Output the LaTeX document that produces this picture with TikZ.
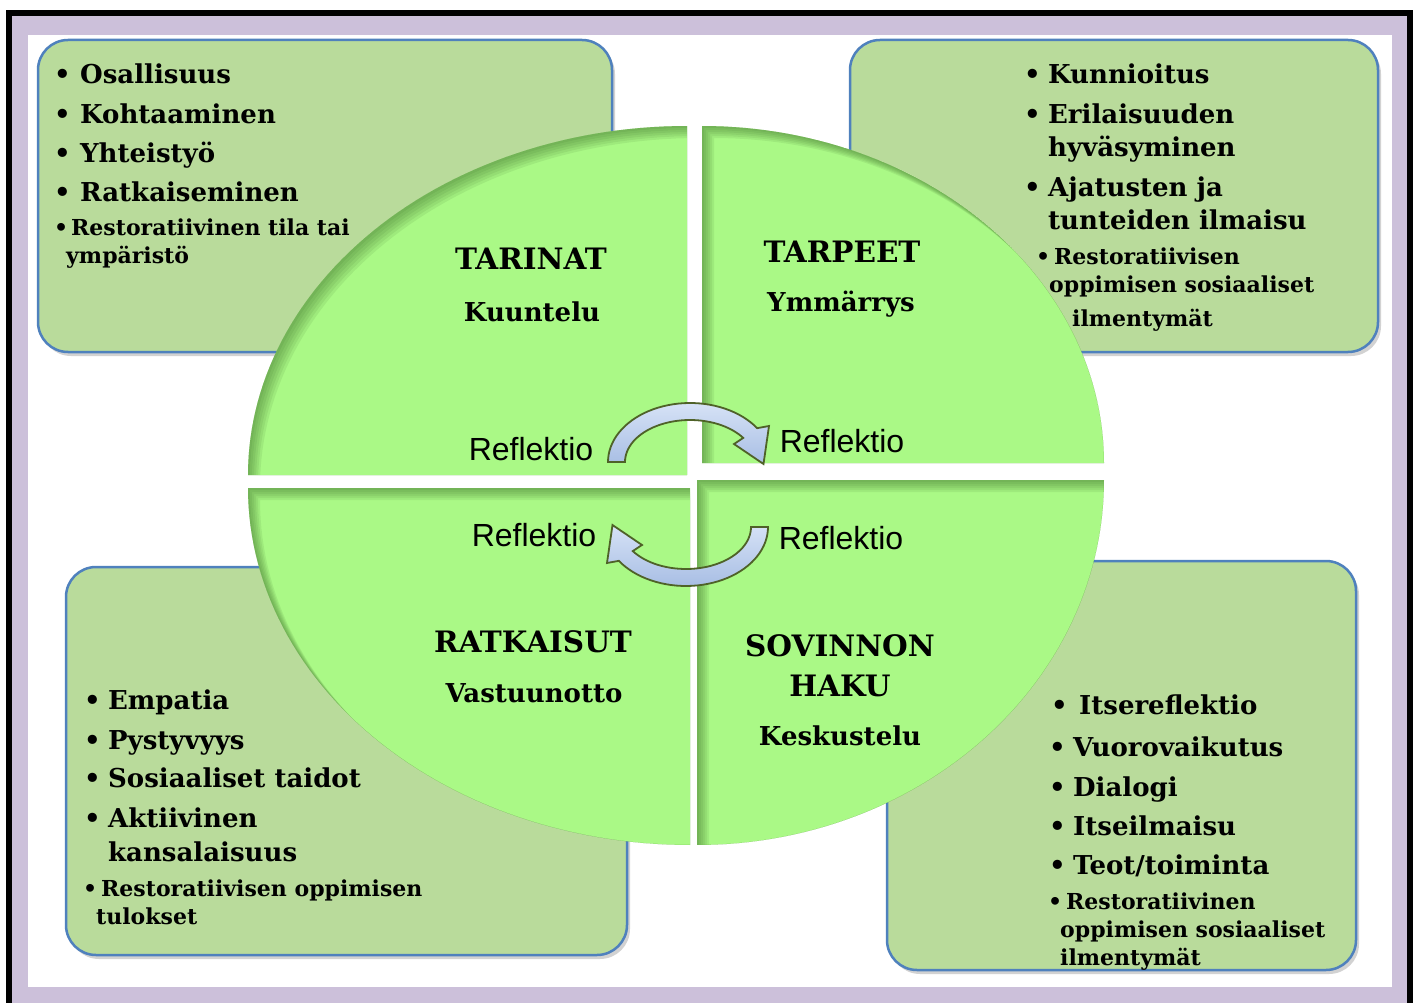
\documentclass[tikz,border=0pt]{standalone}
\usepackage{fontspec}
\setmainfont{DejaVu Serif}
\newfontfamily\reflfont{Liberation Sans}
\usetikzlibrary{shadows}
\usepackage{xcolor}

\definecolor{frameviolet}{RGB}{204,192,218}
\definecolor{boxgreen}{RGB}{185,219,155}
\definecolor{boxblue}{RGB}{79,129,189}
\definecolor{quadgreen}{RGB}{170,249,134}
\definecolor{rimgreen}{RGB}{60,110,40}
\definecolor{arrowtop}{RGB}{214,226,246}
\definecolor{arrowbottom}{RGB}{168,190,228}
\definecolor{arrowline}{RGB}{79,98,40}

\newcommand{\bul}[1]{\makebox[#1][l]{\textbullet}}

\begin{document}
\begin{tikzpicture}[x=1pt, y=-1pt,
                box/.style={rectangle, draw=boxblue, line width=2.5pt, rounded corners=30pt, fill=boxgreen, drop shadow={shadow xshift=3pt, shadow yshift=-4pt, opacity=0.35}},
                quad/.style={fill=quadgreen},
                big/.style={anchor=base west, inner sep=0pt, font=\bfseries\fontsize{26}{31}\selectfont},
                small/.style={anchor=base west, inner sep=0pt, font=\bfseries\fontsize{22}{26}\selectfont},
                title/.style={anchor=base, inner sep=0pt, font=\bfseries\fontsize{29.5}{35}\selectfont},
                sub/.style={anchor=base, inner sep=0pt, font=\bfseries\fontsize{26}{31}\selectfont},
                refl/.style={anchor=base, inner sep=0pt, font=\reflfont\fontsize{32}{38}\selectfont},
                turn/.style={draw=arrowline, line width=1.8pt, top color=arrowtop, bottom color=arrowbottom}
            ]
            \useasboundingbox (0,0) rectangle (1417,1003);
            % frame
            \fill[black] (6,10) rectangle (1413,1010);
            \fill[frameviolet] (12,16) rectangle (1407,1010);
            \fill[white] (28,35) rectangle (1392,987);

            % corner boxes
            \node[box, minimum width=574pt, minimum height=312pt] (tlbox) at (325,196) {};
            \node[box, minimum width=528pt, minimum height=312pt] (trbox) at (1114,196) {};
            \node[box, minimum width=561pt, minimum height=388pt] (blbox) at (346.5,761) {};
            \node[box, minimum width=469pt, minimum height=409pt] (brbox) at (1121.5,765.5) {};

            % quarters of the ellipse, with a rim shadow
            \foreach \cx/\cy/\dx/\dy/\rx/\ry in {687/475/-1/-1/439/349, 702/463/1/-1/402/337, 690/488/-1/1/442/357, 697/480/1/1/407/365}{
                \fill[quad] (\cx,\cy) -- plot[domain=0:90, samples=60] ({\cx+\dx*\rx*cos(\x)}, {\cy+\dy*\ry*sin(\x)}) -- cycle;
                \begin{scope}
                    \clip (\cx,\cy) -- plot[domain=0:90, samples=60] ({\cx+\dx*\rx*cos(\x)}, {\cy+\dy*\ry*sin(\x)}) -- cycle;
                    \foreach \s in {2,4,...,12}
                        \fill[rimgreen, opacity=0.1, even odd rule] (\cx,\cy) -- plot[domain=0:90, samples=60] ({\cx+\dx*\rx*cos(\x)}, {\cy+\dy*\ry*sin(\x)}) -- cycle
                            ({\cx+\s},{\cy+\s}) -- plot[domain=0:90, samples=60] ({\cx+\s+\dx*\rx*cos(\x)}, {\cy+\s+\dy*\ry*sin(\x)}) -- cycle;
                \end{scope}
            }

            % top left list
            \node[big] (tl1) at (54,84) {\bul{26pt}Osallisuus};
            \node[big] (tl2) at (54,124) {\bul{26pt}Kohtaaminen};
            \node[big] (tl3) at (54,163) {\bul{26pt}Yhteistyö};
            \node[big] (tl4) at (54,202) {\bul{26pt}Ratkaiseminen};
            \node[small] (tl5) at (54,236) {\bul{17pt}Restoratiivinen tila tai};
            \node[small] (tl6) at (66,264) {ympäristö};

            % top right list
            \node[big] (tr1) at (1024,84) {\bul{24pt}Kunnioitus};
            \node[big] (tr2) at (1024,124) {\bul{24pt}Erilaisuuden};
            \node[big] (tr3) at (1048,157) {hyväsyminen};
            \node[big] (tr4) at (1024,197) {\bul{24pt}Ajatusten ja};
            \node[big] (tr5) at (1048,230) {tunteiden ilmaisu};
            \node[small] (tr6) at (1036,265) {\bul{18pt}Restoratiivisen};
            \node[small] (tr7) at (1049,293) {oppimisen sosiaaliset};
            \node[small] (tr8) at (1072,326) {ilmentymät};

            % bottom left list
            \node[big] (bl1) at (84,709) {\bul{24pt}Empatia};
            \node[big] (bl2) at (84,749) {\bul{24pt}Pystyvyys};
            \node[big] (bl3) at (84,787) {\bul{24pt}Sosiaaliset taidot};
            \node[big] (bl4) at (84,827) {\bul{24pt}Aktiivinen};
            \node[big] (bl5) at (108,861) {kansalaisuus};
            \node[small] (bl6) at (83,896) {\bul{18pt}Restoratiivisen oppimisen};
            \node[small] (bl7) at (96,924) {tulokset};

            % bottom right list
            \node[big] (br1) at (1051,714) {\bul{28pt}Itsereflektio};
            \node[big] (br2) at (1049,756) {\bul{24pt}Vuorovaikutus};
            \node[big] (br3) at (1049,796) {\bul{24pt}Dialogi};
            \node[big] (br4) at (1049,835) {\bul{24pt}Itseilmaisu};
            \node[big] (br5) at (1049,874) {\bul{24pt}Teot/toiminta};
            \node[small] (br6) at (1048,909) {\bul{18pt}Restoratiivinen};
            \node[small] (br7) at (1060,937) {oppimisen sosiaaliset};
            \node[small] (br8) at (1060,965) {ilmentymät};

            % quarter titles
            \node[title] (tarinat) at (531,270) {TARINAT};
            \node[sub] (kuuntelu) at (532,321) {Kuuntelu};
            \node[title] (tarpeet) at (842,262) {TARPEET};
            \node[sub] (ymmarrys) at (841,312) {Ymmärrys};
            \node[title] (ratkaisut) at (533,652) {RATKAISUT};
            \node[sub] (vastuunotto) at (534,702) {Vastuunotto};
            \node[title] (sovinnon) at (840,656) {SOVINNON};
            \node[title] (haku) at (840,696) {HAKU};
            \node[sub] (keskustelu) at (840,745) {Keskustelu};

            \node[refl] (refltl) at (531,460) {Reflektio};
            \node[refl] (refltr) at (842,452) {Reflektio};
            \node[refl] (reflbl) at (534,546) {Reflektio};
            \node[refl] (reflbr) at (841,549) {Reflektio};

            % curved arrows
            \path[turn] plot[domain=180:35, samples=40] ({690+82*cos(\x)},{462-59*sin(\x)}) -- (769,426) -- (763.5,464) -- (734,444)
                -- plot[domain=35:180, samples=40] ({690+65*cos(\x)},{462-42*sin(\x)}) -- cycle;
            \path[turn, rotate around={180:(688,494.5)}] plot[domain=180:35, samples=40] ({690+82*cos(\x)},{462-59*sin(\x)}) -- (769,426) -- (763.5,464) -- (734,444)
                -- plot[domain=35:180, samples=40] ({690+65*cos(\x)},{462-42*sin(\x)}) -- cycle;
        \end{tikzpicture}
\end{document}
